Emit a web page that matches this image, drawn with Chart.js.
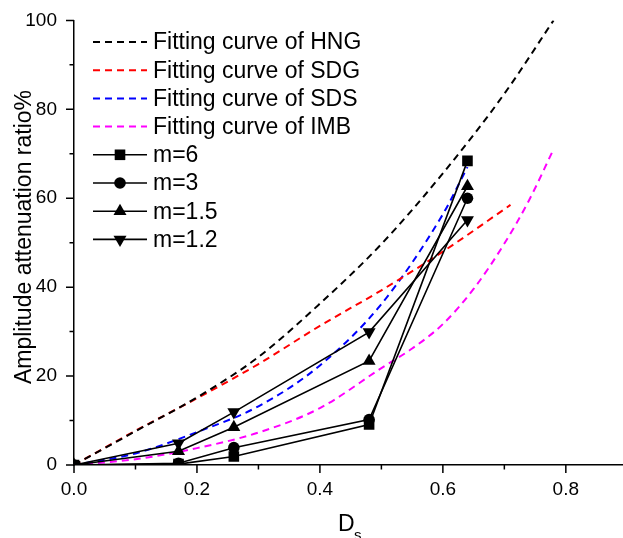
<!DOCTYPE html>
<html>
<head>
<meta charset="utf-8">
<script src="https://cdn.jsdelivr.net/npm/chart.js@4.4.1/dist/chart.umd.min.js"></script>
<style>
  html, body { margin: 0; padding: 0; background: #fff; }
  canvas { display: block; }
</style>
</head>
<body>
<canvas id="chart" width="623" height="538"></canvas>
<script>
// ---- values ----
const xMajorTicks = [0, 0.2, 0.4, 0.6, 0.8];
const xTickLabels = ['0.0', '0.2', '0.4', '0.6', '0.8'];
const xMinorTicks = [0.1, 0.3, 0.5, 0.7];
const yMajorTicks = [0, 20, 40, 60, 80, 100];
const yTickLabels = ['0', '20', '40', '60', '80', '100'];
const yMinorTicks = [10, 30, 50, 70, 90];

// fitting curves, points picked along each dashed line
const hngX = [0, 0.1, 0.2, 0.3, 0.4, 0.5, 0.6, 0.7, 0.78];
const hngY = [0, 7.6, 15.2, 24.3, 36.3, 49.7, 65.6, 83.5, 100];
const sdgX = [0, 0.1, 0.2, 0.3, 0.4, 0.5, 0.6, 0.71];
const sdgY = [0, 7.7, 15.0, 22.7, 31.3, 39.3, 48.0, 58.5];
const sdsX = [0, 0.1, 0.2, 0.3, 0.4, 0.5, 0.6, 0.64];
const sdsY = [0, 2.6, 7.4, 13.2, 22.4, 36.2, 56.4, 67];
const imbX = [0, 0.1, 0.2, 0.3, 0.4, 0.5, 0.55, 0.6, 0.65, 0.7, 0.74, 0.78];
const imbY = [0, 1.3, 3.8, 7.3, 12.8, 21.8, 26.2, 31.7, 39.6, 49.8, 59.5, 71];

// measured points
const dsValues = [0, 0.17, 0.26, 0.48, 0.64];
const m6 = [0, 0.2, 1.9, 9.1, 68.4];
const m3 = [0, 0.4, 3.9, 10.2, 60.0];
const m15 = [0, 3.1, 8.5, 23.4, 62.7];
const m12 = [0, 4.9, 11.9, 29.9, 55.1];

const FONT = "'Liberation Sans', Arial, sans-serif";

const toXY = (xs, ys) => xs.map((x, i) => ({ x, y: ys[i] }));

const fitCurve = (label, xs, ys, color) => ({
  label,
  data: toXY(xs, ys),
  borderColor: color,
  borderWidth: 2,
  borderDash: [7, 5],
  pointRadius: 0,
  cubicInterpolationMode: 'monotone',
  fill: false,
  order: 2,
});

const measured = (label, ys, pointStyle, rotation, radius) => ({
  label,
  data: toXY(dsValues, ys),
  borderColor: '#000',
  backgroundColor: '#000',
  borderWidth: 1.6,
  pointStyle,
  rotation,
  pointRadius: radius,
  pointBorderWidth: 0,
  tension: 0,
  fill: false,
  order: 1,
});

// small marker drawer for the legend
function drawMarker(ctx, style, rotation, x, y, r) {
  ctx.beginPath();
  if (style === 'rect') {
    const s = r / Math.SQRT2;
    ctx.rect(x - s, y - s, 2 * s, 2 * s);
  } else if (style === 'circle') {
    ctx.arc(x, y, r, 0, Math.PI * 2);
  } else {
    const rot = (rotation || 0) * Math.PI / 180;
    for (let k = 0; k < 3; k++) {
      const a = rot + k * 2 * Math.PI / 3;
      const px = x + Math.sin(a) * r;
      const py = y - Math.cos(a) * r;
      if (k === 0) ctx.moveTo(px, py); else ctx.lineTo(px, py);
    }
    ctx.closePath();
  }
  ctx.fill();
}

const tickMarks = {
  id: 'tickMarks',
  afterDraw(chart) {
    const ctx = chart.ctx;
    const xs = chart.scales.x;
    const ys = chart.scales.y;
    const bottom = chart.chartArea.bottom;
    const left = chart.chartArea.left;
    ctx.save();
    ctx.strokeStyle = '#000';
    ctx.lineWidth = 1.5;
    ctx.beginPath();
    xMajorTicks.forEach(v => { const p = xs.getPixelForValue(v); ctx.moveTo(p, bottom); ctx.lineTo(p, bottom + 8); });
    xMinorTicks.forEach(v => { const p = xs.getPixelForValue(v); ctx.moveTo(p, bottom); ctx.lineTo(p, bottom + 4.5); });
    yMajorTicks.forEach(v => { const p = ys.getPixelForValue(v); ctx.moveTo(left, p); ctx.lineTo(left - 8, p); });
    yMinorTicks.forEach(v => { const p = ys.getPixelForValue(v); ctx.moveTo(left, p); ctx.lineTo(left - 4.5, p); });
    ctx.stroke();
    ctx.restore();
  },
};

const axisTitles = {
  id: 'axisTitles',
  afterDraw(chart) {
    const ctx = chart.ctx;
    ctx.save();
    ctx.fillStyle = '#000';
    // y title, rotated
    ctx.font = `23px ${FONT}`;
    ctx.textAlign = 'center';
    ctx.textBaseline = 'alphabetic';
    ctx.translate(31, 237);
    ctx.rotate(-Math.PI / 2);
    ctx.fillText('Amplitude attenuation ratio%', 0, 0);
    ctx.restore();

    // x title D with subscript s
    ctx.save();
    ctx.fillStyle = '#000';
    ctx.textBaseline = 'alphabetic';
    ctx.textAlign = 'left';
    ctx.font = `23px ${FONT}`;
    ctx.fillText('D', 338, 531);
    ctx.font = `15px ${FONT}`;
    ctx.fillText('s', 354, 540);
    ctx.restore();
  },
};

const insideLegend = {
  id: 'insideLegend',
  afterDraw(chart) {
    const ctx = chart.ctx;
    const rowY0 = 42;
    const rowH = 28.2;
    ctx.save();
    ctx.font = `23px ${FONT}`;
    ctx.textBaseline = 'middle';
    ctx.textAlign = 'left';
    chart.data.datasets.forEach((ds, i) => {
      const y = rowY0 + i * rowH;
      ctx.strokeStyle = ds.borderColor;
      ctx.lineWidth = ds.borderWidth;
      ctx.setLineDash(ds.borderDash || []);
      ctx.beginPath();
      ctx.moveTo(93, y);
      ctx.lineTo(147, y);
      ctx.stroke();
      ctx.setLineDash([]);
      if (ds.pointRadius > 0) {
        ctx.fillStyle = ds.backgroundColor;
        drawMarker(ctx, ds.pointStyle, ds.rotation, 120, y, ds.pointRadius);
      }
      ctx.fillStyle = '#000';
      ctx.fillText(ds.label, 153, y + 1);
    });
    ctx.restore();
  },
};

new Chart(document.getElementById('chart').getContext('2d'), {
  type: 'line',
  data: {
    datasets: [
      fitCurve('Fitting curve of HNG', hngX, hngY, '#000000'),
      fitCurve('Fitting curve of SDG', sdgX, sdgY, '#ff0000'),
      fitCurve('Fitting curve of SDS', sdsX, sdsY, '#0000ff'),
      fitCurve('Fitting curve of IMB', imbX, imbY, '#ff00ff'),
      measured('m=6', m6, 'rect', 0, 7.5),
      measured('m=3', m3, 'circle', 0, 5.8),
      measured('m=1.5', m15, 'triangle', 0, 7.5),
      measured('m=1.2', m12, 'triangle', 180, 7.5),
    ],
  },
  options: {
    responsive: false,
    animation: false,
    devicePixelRatio: 1,
    layout: { autoPadding: false, padding: { top: 20, right: 0, left: 0, bottom: 0 } },
    plugins: {
      legend: { display: false },
      tooltip: { enabled: false },
    },
    scales: {
      x: {
        type: 'linear',
        min: 0,
        max: 0.893,
        afterBuildTicks(scale) {
          scale.ticks = xMajorTicks.map(v => ({ value: v }));
        },
        afterFit(scale) { scale.height = 73; },
        grid: { display: true, drawOnChartArea: false, drawTicks: true, tickLength: 8, tickColor: 'rgba(0,0,0,0)' },
        border: { display: true, color: '#000', width: 1.5 },
        ticks: {
          color: '#000',
          font: { family: FONT, size: 19 },
          padding: 5,
          maxRotation: 0,
          autoSkip: false,
          callback: (v) => xTickLabels[xMajorTicks.indexOf(v)],
        },
      },
      y: {
        type: 'linear',
        min: 0,
        max: 100,
        afterBuildTicks(scale) {
          scale.ticks = yMajorTicks.map(v => ({ value: v }));
        },
        afterFit(scale) { scale.width = 74; },
        grid: { display: true, drawOnChartArea: false, drawTicks: true, tickLength: 8, tickColor: 'rgba(0,0,0,0)' },
        border: { display: true, color: '#000', width: 1.5 },
        ticks: {
          color: '#000',
          font: { family: FONT, size: 19 },
          padding: 9,
          autoSkip: false,
          callback: (v) => yTickLabels[yMajorTicks.indexOf(v)],
        },
      },
    },
  },
  plugins: [tickMarks, axisTitles, insideLegend],
});
</script>
</body>
</html>
